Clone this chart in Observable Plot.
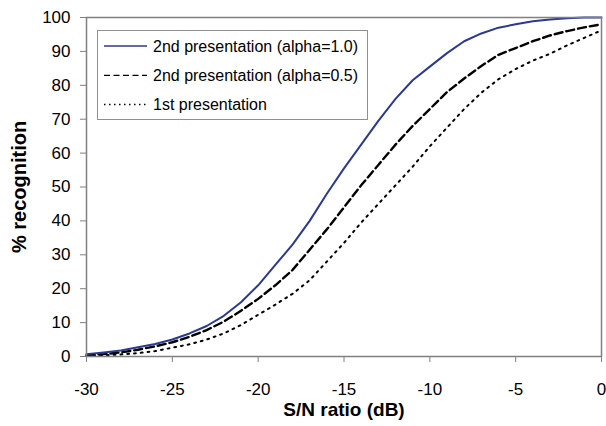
<!DOCTYPE html>
<html><head><meta charset="utf-8">
<script src="https://cdn.jsdelivr.net/npm/d3@7"></script>
<script src="https://cdn.jsdelivr.net/npm/@observablehq/plot@0.6"></script>
<style>
body{margin:0;background:#fff;}
#chart{width:606px;height:426px;}
</style>
</head><body><div id="chart"></div>
<script>
// S/N ratio (dB)
const snr = [-30,-29,-28,-27,-26,-25,-24,-23,-22,-21,-20,-19,-18,-17,-16,-15,-14,-13,-12,-11,-10,-9,-8,-7,-6,-5,-4,-3,-2,-1,0];
// 2nd presentation (alpha=1.0)
const alpha10 = [0.7,1.2,1.8,2.7,3.7,5.0,6.8,9.0,12.0,16.0,21.0,27.0,33.0,40.0,48.0,55.5,62.5,69.5,76.0,81.5,85.5,89.5,93.0,95.3,97.0,98.0,98.9,99.4,99.8,100,100];
// 2nd presentation (alpha=0.5)
const alpha05 = [0.4,0.7,1.2,2.0,3.0,4.2,5.8,7.8,10.3,13.5,17.0,21.0,25.5,31.5,37.5,44.0,50.5,56.5,62.5,68.0,73.0,78.0,82.0,85.7,89.0,91.0,93.0,94.7,96.0,97.1,98.0];
// 1st presentation
const first = [0.2,0.4,0.6,1.0,1.6,2.6,3.6,5.0,6.8,9.3,12.3,15.3,18.5,22.5,28.0,33.5,39.5,45.0,50.5,56.0,62.0,67.5,73.0,77.8,81.8,84.8,87.3,89.3,91.8,94.0,96.2];

const seriesNames = ["2nd presentation (alpha=1.0)", "2nd presentation (alpha=0.5)", "1st presentation"];
const xTicks = [-30,-25,-20,-15,-10,-5,0];
const yTicks = [0,10,20,30,40,50,60,70,80,90,100];
const xLabel = "S/N ratio (dB)";
const yLabel = "% recognition";

const rows = snr.map((x, i) => ({x, a: alpha10[i], b: alpha05[i], c: first[i]}));

const styles = [
  {stroke: "#2b3990", strokeWidth: 2, strokeDasharray: null, legendWidth: 1.6, legendDash: null},
  {stroke: "#000", strokeWidth: 2.4, strokeDasharray: "8,4", legendWidth: 1.3, legendDash: "6,3.5"},
  {stroke: "#000", strokeWidth: 2, strokeDasharray: "1.8,5", legendWidth: 1.5, legendDash: "1.5,3.5"}
];

const font = "'Liberation Sans', Arial, sans-serif";

const plot = Plot.plot({
  width: 606, height: 426,
  marginLeft: 86, marginRight: 5, marginTop: 17, marginBottom: 70,
  style: {fontFamily: font, fontSize: "17px", background: "#fff", color: "#000"},
  x: {domain: [-30, 0]},
  y: {domain: [0, 100]},
  marks: [
    Plot.axisX({ticks: xTicks, tickSize: 6, tickPadding: 20, stroke: "#808080", fill: "#000", fontSize: 17, label: null, tickFormat: d => String(d)}),
    Plot.axisY({ticks: yTicks, tickSize: 6, tickPadding: 10, stroke: "#808080", fill: "#000", fontSize: 17, label: null}),
    Plot.line(rows, {x: "x", y: "c", stroke: styles[2].stroke, strokeWidth: styles[2].strokeWidth, strokeDasharray: styles[2].strokeDasharray}),
    Plot.line(rows, {x: "x", y: "b", stroke: styles[1].stroke, strokeWidth: styles[1].strokeWidth, strokeDasharray: styles[1].strokeDasharray}),
    Plot.line(rows, {x: "x", y: "a", stroke: styles[0].stroke, strokeWidth: styles[0].strokeWidth}),
    Plot.frame({stroke: "#808080", strokeWidth: 1.5}),
    Plot.text([xLabel], {frameAnchor: "bottom", dy: 53, lineAnchor: "middle", fontWeight: "bold", fontSize: 19, fill: "#000"}),
    Plot.text([yLabel], {frameAnchor: "left", dx: -67, rotate: -90, textAnchor: "middle", lineAnchor: "middle", fontWeight: "bold", fontSize: 20, fill: "#000"})
  ]
});

document.getElementById("chart").appendChild(plot);

// Legend box inside the plot area (top-left)
const svg = d3.select(plot);
const lg = svg.append("g").attr("font-family", font).attr("font-size", 16).attr("text-anchor", "start");
lg.append("rect").attr("x", 97.5).attr("y", 30.5).attr("width", 270).attr("height", 89)
  .attr("fill", "#fff").attr("stroke", "#909090").attr("stroke-width", 1);
seriesNames.forEach((name, i) => {
  const cy = 46 + i * 29.3;
  const s = styles[i];
  const ln = lg.append("line").attr("x1", 104).attr("x2", 147).attr("y1", cy).attr("y2", cy)
    .attr("stroke", s.stroke).attr("stroke-width", s.legendWidth);
  if (s.legendDash) ln.attr("stroke-dasharray", s.legendDash);
  lg.append("text").attr("x", 153).attr("y", cy).attr("dy", "0.35em").attr("text-anchor", "start").attr("fill", "#000").text(name);
});
</script>
</body></html>
